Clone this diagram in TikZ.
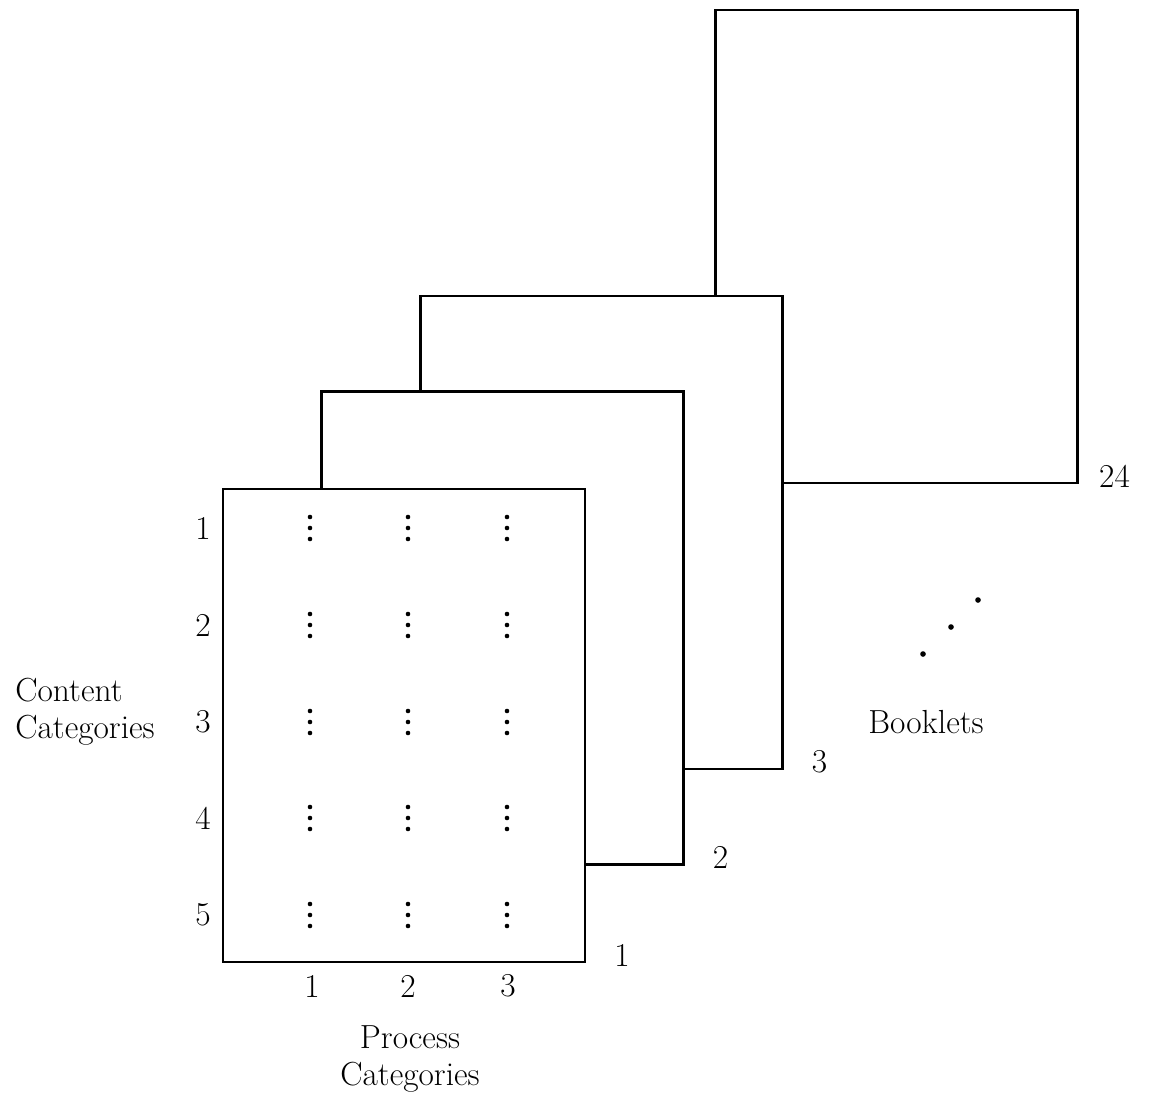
\documentclass[tikz,border=0pt]{standalone}
\usetikzlibrary{positioning, calc}
\tikzset{
  sheet/.style = {draw, fill=white, line width=1.2pt, minimum width=7.24cm,
                  minimum height=9.46cm, inner sep=0pt},
  lab/.style   = {font=\fontsize{19}{21}\selectfont, inner sep=0pt}
}
\begin{document}
\begin{tikzpicture}[x=0.02cm, y=-0.02cm]
\useasboundingbox (0,0) rectangle (1149,1092);
% Booklets, back to front
\foreach \n/\x/\y in {24/896.5/246.5, 3/601.5/532.5, 2/502.5/628, 1/404/725.5} {
  \node[sheet] (sheet\n) at (\x,\y) {};
  \node[lab] (num\n) at ($(sheet\n.south east)+(36,-8)$) {\n};
}
% Rows and columns of the front booklet
\foreach \r/\ry in {1/528, 2/625, 3/722, 4/818, 5/915} {
  \node[lab] (row\r) at (203,\ry) {\r};
  \foreach \cx in {310, 408, 507}
    \foreach \d in {-11,0,11}
      \fill (\cx,\ry+\d) circle (1.3pt);
}
\foreach \c/\cx in {1/312, 2/408, 3/508}
  \node[lab] (col\c) at (\cx,986) {\c};

\node[lab, align=left, anchor=west] (content) at (15,712) {Content\\Categories};
\node[lab, align=center] (process) at (410,1059) {Process\\Categories};
\node[lab] (booklets) at (926,722) {Booklets};
% Dots between booklet 3 and 24
\foreach \px/\py in {923/654, 951/627, 978/600}
  \fill (\px,\py) circle (1.6pt);
\end{tikzpicture}
\end{document}
